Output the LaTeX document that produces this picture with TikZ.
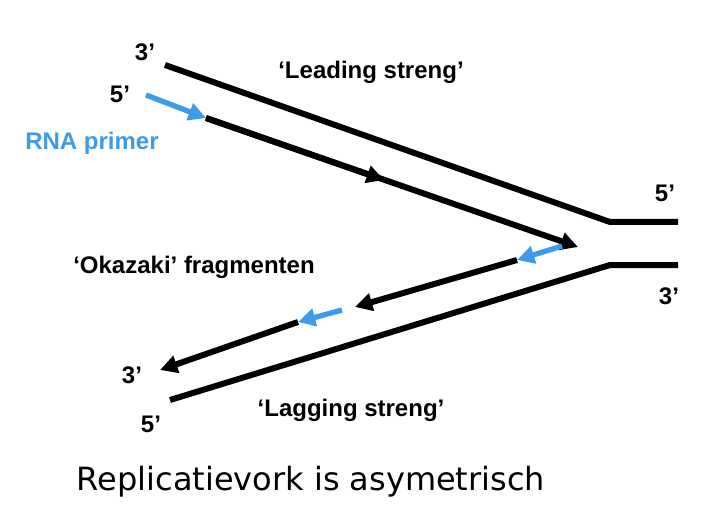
\documentclass[tikz,border=0pt]{standalone}
\usepackage{fontspec}
\setmainfont{Liberation Sans}
\newfontfamily\captionfont{DejaVu Sans}
\usepackage[HTML]{xcolor}
\usetikzlibrary{arrows.meta}
\definecolor{primerblue}{HTML}{3D9BE9}

\begin{document}
\begin{tikzpicture}[
    x=0.75pt, y=-0.75pt, % pixel grid, y pointing down
    >={Triangle[length=13pt,width=13pt]},
    strand/.style={line width=4.5pt},
    primer/.style={line width=4pt, primerblue},
    every node/.style={inner sep=0pt, anchor=base, font=\fontsize{18}{21}\selectfont\bfseries}
]
    \useasboundingbox (0,0) rectangle (708,510);

    % 1. Define the points of the fork
    \coordinate (T1) at (165,65);   % top template, free end
    \coordinate (T2) at (610,222);  % top template, fork
    \coordinate (T3) at (678,222);
    \coordinate (B1) at (170,400);  % bottom template, free end
    \coordinate (B2) at (610,265);  % bottom template, fork
    \coordinate (B3) at (678,265);

    \coordinate (P1) at (146,95);   % RNA primer of leading strand
    \coordinate (P2) at (206,118);
    \coordinate (L1) at (384,180);  % middle arrow
    \coordinate (L2) at (578,247);  % tip near the fork

    \coordinate (O1) at (562,246);  % first Okazaki fragment
    \coordinate (O2) at (517,260);
    \coordinate (O3) at (355,307);
    \coordinate (O4) at (342,310);  % second Okazaki fragment
    \coordinate (O5) at (298,322);
    \coordinate (O6) at (160,370);

    % 2. Draw the template strands
    \draw[strand] (T1) -- (T2) -- (T3);
    \draw[strand] (B1) -- (B2) -- (B3);

    % 3. Leading strand (primer + continuous synthesis)
    \draw[primer, ->] (P1) -- (P2);
    \draw[strand, ->] (P2) -- (L2);
    \draw[strand, ->] (P2) -- (L1);

    % 4. Lagging strand (Okazaki fragments)
    \draw[primer, ->] (O1) -- (O2);
    \draw[strand, ->] (O2) -- (O3);
    \draw[primer, ->] (O4) -- (O5);
    \draw[strand, ->] (O5) -- (O6);

    % 5. Labels
    \node (t3) at (145,61) {3’};
    \node (l5) at (120,103) {5’};
    \node[primerblue] (rna) at (92,150) {RNA primer};
    \node (lead) at (371,79) {‘Leading streng’};
    \node (r5) at (665,202) {5’};
    \node (r3) at (669,305) {3’};
    \node (oka) at (194,273) {‘Okazaki’ fragmenten};
    \node (b3) at (132,383) {3’};
    \node (b5) at (151,432) {5’};
    \node (lag) at (351,416) {‘Lagging streng’};

    % 6. Caption
    \node[font=\captionfont\fontsize{24}{28}\selectfont] (cap) at (311,490)
        {Replicatievork is asymetrisch};

\end{tikzpicture}
\end{document}
